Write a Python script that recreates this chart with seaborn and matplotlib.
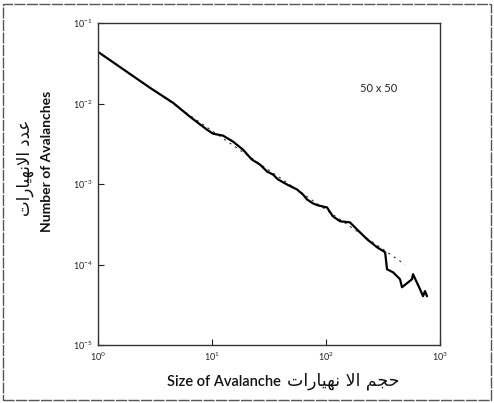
import numpy as np
import pandas as pd
import matplotlib
matplotlib.use("Agg")
import matplotlib.pyplot as plt
from matplotlib.patches import Rectangle
from matplotlib.ticker import LogLocator, NullLocator
import seaborn as sns

# ---- data ----
size = [1, 2.86, 4.55, 6.41, 9.04, 10.2, 12.5, 15.3, 18.7, 22.4, 26.4, 30.4,
        34.3, 37.9, 45.5, 55.7, 62.8, 68.1, 76.9, 85.1, 102, 115, 133, 162,
        187, 229, 280, 330, 343, 387, 420, 446, 464, 568, 580, 668, 710, 738, 769]
number = [0.0438, 0.01567, 0.01021, 0.00685, 0.00473, 0.00422, 0.00399,
          0.00336, 0.00267, 0.00201, 0.00174, 0.00143, 0.00131, 0.00114,
          0.000986, 0.000855, 0.000741, 0.000643, 0.000574, 0.000542,
          0.000512, 0.000396, 0.000344, 0.000334, 0.000273, 0.000206,
          0.000164, 0.000142, 8.73e-5, 8.01e-5, 7.15e-5, 6.56e-5, 5.22e-5,
          6.56e-5, 7.57e-5, 4.93e-5, 4.04e-5, 4.67e-5, 4.04e-5]
fit_size = [1, 493]
fit_number = [0.044, 1.0e-4]

x_label_en = "Size of Avalanche"
y_label_en = "Number of Avalanches"
# Arabic labels (shaped presentation forms, logical order)
ar_y_logical = "\uFECB\uFEAA\uFEA9 \uFE8D\uFEFB\uFEE7\uFEEC\uFEF4\uFE8E\uFEAD\uFE8D\uFE95"   # عدد الانهيارات
ar_x_logical = "\uFEA3\uFEA0\uFEE2 \uFE8D\uFEFB \uFEE7\uFEEC\uFEF4\uFE8E\uFEAD\uFE8D\uFE95"  # حجم الا نهيارات
annotation = "50 x 50"

# visual (left-to-right) order for drawing
ar_y = ar_y_logical[::-1]
ar_x = ar_x_logical[::-1]

df = pd.DataFrame({"size": size, "number": number})
fit = pd.DataFrame({"size": fit_size, "number": fit_number})

sns.set_theme(style="white")
plt.rcParams["font.family"] = ["Lato", "DejaVu Sans"]

fig = plt.figure(figsize=(4.94, 4.03), dpi=100)
ax = fig.add_axes([98/494, 1-345/403, (440-98)/494, (345-23)/403])

sns.lineplot(data=fit, x="size", y="number", ax=ax, color="#333333",
             linewidth=0.8, linestyle=(0, (2, 4)), estimator=None)
sns.lineplot(data=df, x="size", y="number", ax=ax, color="black",
             linewidth=1.6, estimator=None, sort=False)

ax.set_xscale("log")
ax.set_yscale("log")
ax.set_xlim(1, 1000)
ax.set_ylim(1e-5, 1e-1)
ax.xaxis.set_major_locator(LogLocator(base=10, numticks=10))
ax.yaxis.set_major_locator(LogLocator(base=10, numticks=10))
ax.xaxis.set_minor_locator(NullLocator())
ax.yaxis.set_minor_locator(NullLocator())
ax.tick_params(axis="both", which="major", direction="in", length=4,
               width=0.8, labelsize=6.5, colors="#222222",
               bottom=True, left=True, top=False, right=False, pad=4)
for sp in ax.spines.values():
    sp.set_color("#333333")
    sp.set_linewidth(1.0)

ax.set_xlabel("")
ax.set_ylabel("")

ax.text(0.822, 0.798, annotation, transform=ax.transAxes, fontsize=8,
        ha="center", va="center", color="#222222")

# x label: English part + Arabic part
fig.text(281/494, 1-382/403, x_label_en, ha="right", va="center",
         fontsize=10.5, fontweight="semibold", color="#111111")
fig.text(287/494, 1-381/403, ar_x, ha="left", va="center",
         fontsize=12.5, color="#111111", family=["DejaVu Sans"])

# y labels
fig.text(47/494, 1-161/403, y_label_en, rotation=90, ha="center", va="center",
         fontsize=10, fontweight="bold", color="#111111")
fig.text(25/494, 1-168/403, ar_y, rotation=90, ha="center", va="center",
         fontsize=12, color="#111111", family=["DejaVu Sans"])

fig.patches.append(Rectangle((3/494, 3/403), 488/494, 396/403,
                             transform=fig.transFigure, fill=False,
                             edgecolor="#555555", linewidth=1.0,
                             linestyle=(0, (8, 1))))

fig.savefig("out.png", dpi=100)
